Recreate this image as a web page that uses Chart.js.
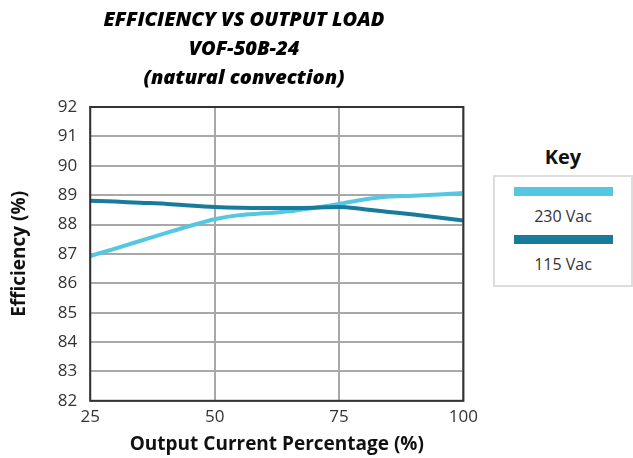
<!DOCTYPE html>
<html>
<head>
<meta charset="utf-8">
<script src="https://cdn.jsdelivr.net/npm/chart.js@4"></script>
<style>
  body { margin: 0; background: #fff; font-family: "Open Sans", sans-serif; }
  #wrap { position: relative; width: 633px; height: 458px; }
  #chart { position: absolute; left: 0; top: 0; }
  #keyTitle { position: absolute; left: 493px; width: 140px; top: 143px; text-align: center;
    font-weight: 700; font-size: 20px; color: #111; }
  #key { position: absolute; left: 493px; top: 175px; width: 136px; height: 108px;
    border: 2px solid #ddd; }
  .item { text-align: center; color: #333; font-size: 16px; }
  .bar { width: 99px; height: 9px; margin: 0 auto; }
</style>
</head>
<body>
<div id="wrap">
  <canvas id="chart" width="484" height="458"></canvas>
  <div id="keyTitle">Key</div>
  <div id="key"></div>
</div>
<script>
// Output load (%)
const loads = [25, 30, 35, 40, 45, 50, 55, 60, 65, 70, 75, 80, 85, 90, 95, 100];
// Efficiency (%)
const eff230 = [86.93, 87.18, 87.44, 87.70, 87.95, 88.18, 88.32, 88.38, 88.45, 88.57, 88.70, 88.85, 88.95, 88.98, 89.02, 89.07];
const eff115 = [88.81, 88.78, 88.74, 88.71, 88.65, 88.60, 88.57, 88.56, 88.56, 88.57, 88.60, 88.52, 88.43, 88.34, 88.24, 88.14];
const seriesLabels = ['230 Vac', '115 Vac'];
const seriesColors = ['#55c7e2', '#187b9b'];
const xTicks = [25, 50, 75, 100];
const titleLines = ['EFFICIENCY VS OUTPUT LOAD', 'VOF-50B-24', '(natural convection)'];

const toPoints = (ys) => loads.map((x, i) => ({ x: x, y: ys[i] }));

// dark frame round the plot area
const frame = {
  id: 'frame',
  afterDraw(chart) {
    const a = chart.chartArea, ctx = chart.ctx;
    ctx.save();
    ctx.strokeStyle = '#333';
    ctx.lineWidth = 2;
    ctx.strokeRect(a.left, a.top, a.right - a.left, a.bottom - a.top);
    ctx.restore();
  }
};

const datasets = [eff115, eff230].map((d, i) => ({
  label: seriesLabels[1 - i],
  data: toPoints(d),
  borderColor: seriesColors[1 - i],
  borderWidth: 4,
  pointRadius: 0,
  tension: 0.4,
  cubicInterpolationMode: 'monotone'
}));

new Chart(document.getElementById('chart'), {
  type: 'line',
  data: { datasets: datasets },
  options: {
    responsive: false,
    animation: false,
    layout: { padding: { left: 8, right: 4, bottom: 0 } },
    plugins: {
      legend: { display: false },
      tooltip: { enabled: false },
      title: {
        display: true,
        text: titleLines,
        color: '#000',
        font: { family: 'Open Sans', size: 20, weight: 800, style: 'italic', lineHeight: 1.45 },
        padding: { top: 6, bottom: 14 }
      }
    },
    scales: {
      x: {
        type: 'linear',
        min: 25, max: 100,
        afterBuildTicks: (s) => { s.ticks = xTicks.map(v => ({ value: v })); },
        grid: { color: '#a8a8a8', lineWidth: 2, drawTicks: false },
        border: { display: false },
        ticks: { color: '#333', font: { family: 'Open Sans', size: 17 }, padding: 6 },
        title: {
          display: true, text: 'Output Current Percentage (%)', color: '#111',
          font: { family: 'Open Sans', size: 19, weight: 700 }, padding: { top: 0, bottom: 2 }
        }
      },
      y: {
        min: 82, max: 92,
        ticks: { stepSize: 1, color: '#333', font: { family: 'Open Sans', size: 17 }, padding: 13 },
        grid: { color: '#a8a8a8', lineWidth: 2, drawTicks: false },
        border: { display: false },
        title: {
          display: true, text: 'Efficiency (%)', color: '#111',
          font: { family: 'Open Sans', size: 19, weight: 700 }, padding: { top: 0, bottom: 14 }
        }
      }
    }
  },
  plugins: [frame]
});

// key box built from the series
const key = document.getElementById('key');
seriesLabels.forEach((lab, i) => {
  const it = document.createElement('div');
  it.className = 'item';
  it.style.marginTop = i === 0 ? '10px' : '8px';
  it.innerHTML = '<div class="bar" style="background:' + seriesColors[i] + '"></div>' +
    '<div style="margin-top:9px">' + lab + '</div>';
  key.appendChild(it);
});
</script>
</body>
</html>
